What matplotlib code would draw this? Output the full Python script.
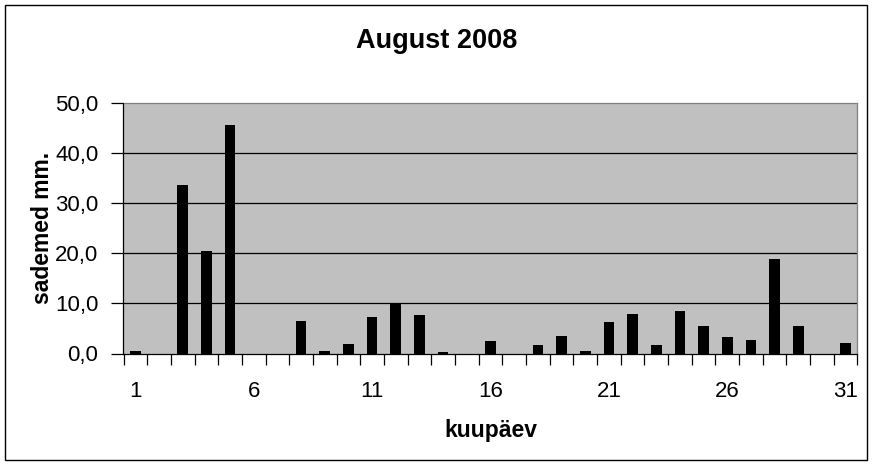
import matplotlib
matplotlib.use("Agg")
from matplotlib import pyplot as plt
from matplotlib.patches import Rectangle
import numpy as np

days = list(range(1, 32))
rain = [0.5, 0.0, 33.6, 20.4, 45.6, 0.0, 0.0, 6.4, 0.5, 1.9,
        7.2, 10.0, 7.6, 0.2, 0.0, 2.5, 0.0, 1.7, 3.4, 0.5,
        6.2, 7.8, 1.7, 8.4, 5.4, 3.2, 2.7, 18.9, 5.4, 0.0, 2.1]
y_ticks = [0, 10, 20, 30, 40, 50]
x_labels = [1, 6, 11, 16, 21, 26, 31]

plt.rcParams["font.family"] = ["Liberation Sans", "DejaVu Sans"]

W, H = 874, 466
fig = plt.figure(figsize=(W / 100, H / 100), dpi=100)

# outer chart frame
fig.patches.append(Rectangle((5 / W, 1 - 460 / H), 862 / W, 455 / H,
                             transform=fig.transFigure, fill=False,
                             edgecolor="black", linewidth=1.0))

ax = fig.add_axes([123.5 / W, 1 - 353.5 / H, 734 / W, 251 / H])
ax.set_facecolor("#c0c0c0")

# gridlines
for t in y_ticks[1:-1]:
    ax.axhline(t, color="black", linewidth=0.9, zorder=1)

ax.bar(days, rain, width=0.45, color="black", zorder=2)

ax.set_xlim(0.5, 31.5)
ax.set_ylim(0, 50)

ax.set_yticks(y_ticks)
ax.set_yticklabels([f"{t:.1f}".replace(".", ",") for t in y_ticks], fontsize=16)

# ticks between categories, labels on every 5th day
ax.set_xticks(np.arange(0.5, 32, 1))
ax.set_xticklabels([])
ax.set_xticks(x_labels, minor=True)
ax.set_xticklabels([str(d) for d in x_labels], minor=True, fontsize=16)
ax.tick_params(axis="x", which="major", direction="out", length=8, width=0.9)
ax.tick_params(axis="x", which="minor", length=0, pad=20)
ax.tick_params(axis="y", direction="out", length=9, width=0.9, pad=9)

for side in ["top", "right"]:
    ax.spines[side].set_color("#808080")
    ax.spines[side].set_linewidth(0.9)
for side in ["left", "bottom"]:
    ax.spines[side].set_color("black")
    ax.spines[side].set_linewidth(0.9)

fig.text(0.5, 1 - 41 / H, "August 2008", ha="center", va="center",
         fontsize=19.5, fontweight="bold")
ax.set_xlabel("kuupäev", fontsize=16.5, fontweight="bold", labelpad=12)
ax.set_ylabel("sademed mm.", fontsize=16.5, fontweight="bold", labelpad=1)

fig.savefig("out.png", dpi=100)
